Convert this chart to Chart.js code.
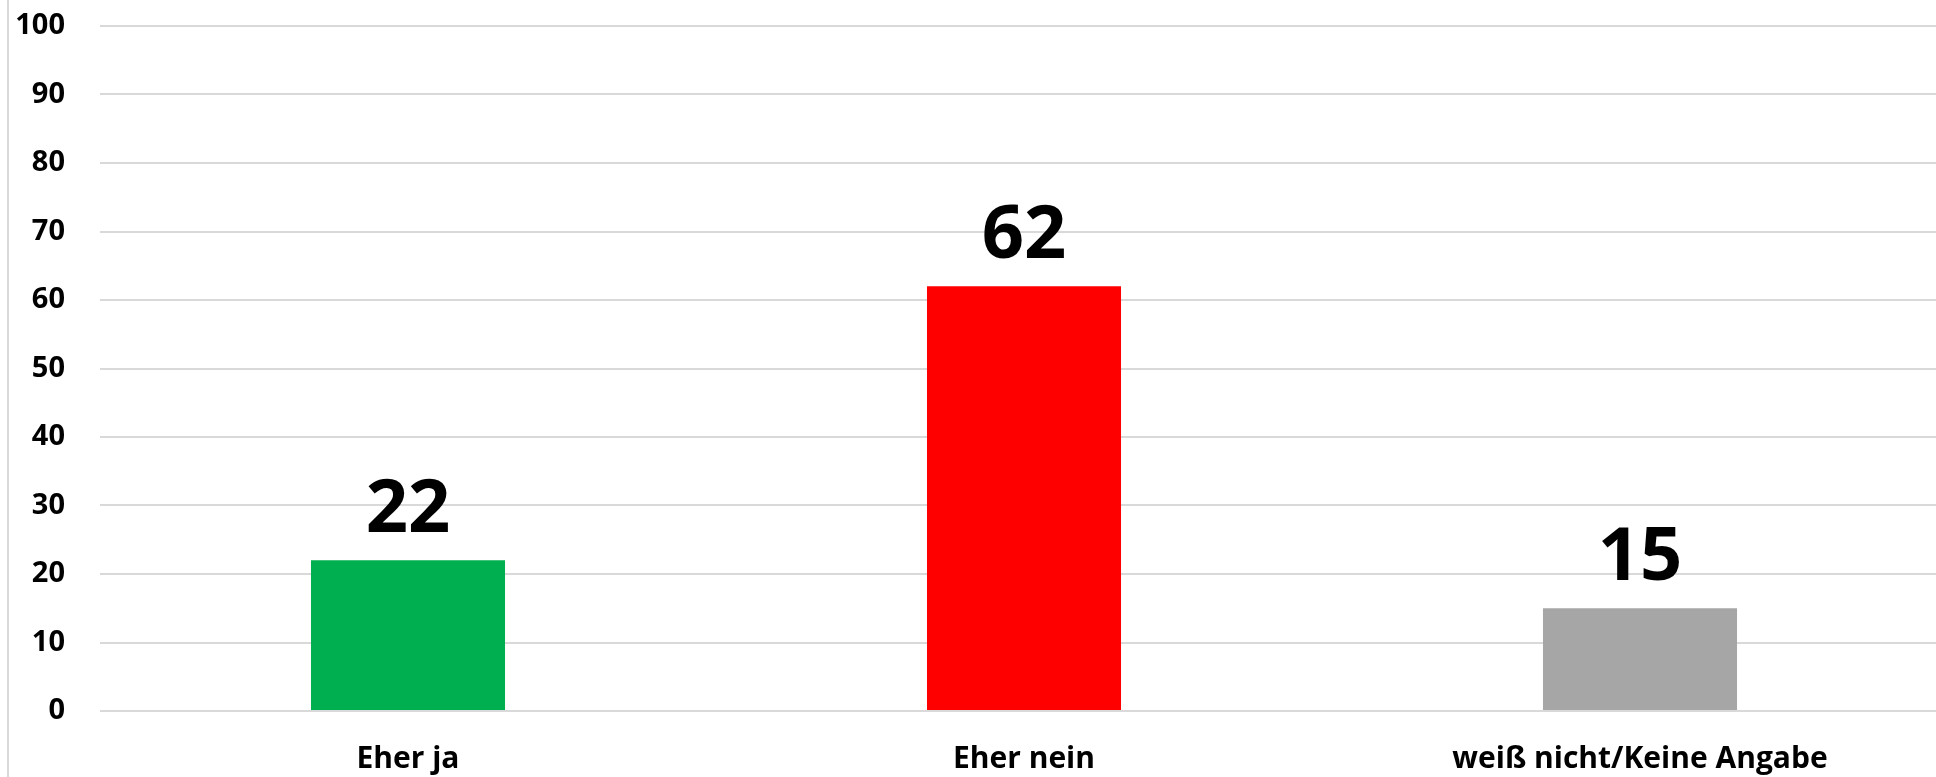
<!DOCTYPE html>
<html>
<head>
<meta charset="utf-8">
<script src="https://cdn.jsdelivr.net/npm/chart.js@4.4.1/dist/chart.umd.min.js"></script>
<style>
  html, body { margin: 0; padding: 0; background: #fff; overflow: hidden; width: 1936px; height: 777px; }
  #wrap { position: relative; width: 1948px; height: 777px; }
  #edge { position: absolute; left: 7px; top: 0; width: 2px; height: 777px; background: #d9d9d9; }
  canvas { position: absolute; left: 0; top: 0; }
</style>
</head>
<body>
<div id="wrap">
  <div id="edge"></div>
  <canvas id="c" width="1948" height="777"></canvas>
</div>
<script>
const categories = ["Eher ja", "Eher nein", "weiß nicht/Keine Angabe"];
const values = [22, 62, 15];
const barColors = ["#00B050", "#FF0000", "#A6A6A6"];
const yTicks = [0, 10, 20, 30, 40, 50, 60, 70, 80, 90, 100];

const FONT = "'Open Sans', 'Noto Sans', sans-serif";

const valueLabels = {
  id: 'valueLabels',
  afterDatasetsDraw(chart) {
    const ctx = chart.ctx;
    const meta = chart.getDatasetMeta(0);
    ctx.save();
    ctx.font = "bold 74px " + FONT;
    ctx.fillStyle = "#000";
    ctx.textAlign = "center";
    ctx.textBaseline = "alphabetic";
    meta.data.forEach((bar, i) => {
      ctx.fillText(String(values[i]), bar.x, bar.y - 28);
    });
    ctx.restore();
  }
};

new Chart(document.getElementById('c'), {
  type: 'bar',
  data: {
    labels: categories,
    datasets: [{
      data: values,
      backgroundColor: barColors,
      borderWidth: 0,
      barPercentage: 0.315,
      categoryPercentage: 1.0
    }]
  },
  options: {
    responsive: false,
    animation: false,
    events: [],
    layout: { padding: { top: 26, right: 0, bottom: 0, left: 0 } },
    plugins: { legend: { display: false }, tooltip: { enabled: false }, title: { display: false } },
    scales: {
      x: {
        grid: { display: false },
        border: { display: false },
        ticks: {
          color: "#000",
          font: { family: FONT, weight: 'bold', size: 30 },
          padding: 22,
          maxRotation: 0,
          autoSkip: false
        },
        afterFit(s) { s.height = 66; }
      },
      y: {
        min: 0,
        max: 100,
        afterBuildTicks(s) { s.ticks = yTicks.map(v => ({ value: v })); },
        grid: { color: "#d9d9d9", lineWidth: 2, drawTicks: false },
        border: { display: false },
        ticks: {
          color: "#000",
          font: { family: FONT, weight: 'bold', size: 29 },
          padding: 35
        },
        afterFit(s) { s.width = 100; s.paddingTop = 0; s.paddingBottom = 0; }
      }
    }
  },
  plugins: [valueLabels]
});
</script>
</body>
</html>
